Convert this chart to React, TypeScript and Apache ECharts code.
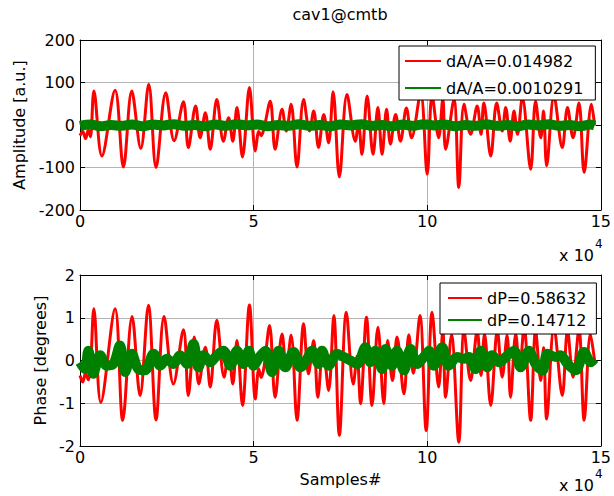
import { useEffect, useRef } from "react";
import * as echarts from "echarts";

const FONT = "'DejaVu Sans', sans-serif";

const titleText = "cav1@cmtb";
const ampName = "Amplitude [a.u.]";
const phaseName = "Phase [degrees]";
const xName = "Samples#";

const ampRedName = "dA/A=0.014982";
const ampGreenName = "dA/A=0.0010291";
const phaseRedName = "dP=0.58632";
const phaseGreenName = "dP=0.14712";

// samples (x) / amplitude (y) — local extrema
const ampRed: [number, number][] = [
  [0, -25], [800, -15], [1600, -32], [2400, -12], [3000, -28], [4000, 80], [6300, -73], [10100, 82],
  [12500, -99], [14900, 80], [17500, -55], [19800, 96], [21900, -100], [24700, 76], [27100, -37],
  [29800, 55], [31200, -53], [33300, 45], [34600, -30], [36100, 29], [37500, -57], [39400, 60],
  [41300, -38], [42800, 17], [44000, -38], [45200, 41], [46800, -75], [48800, 88], [50500, -61],
  [51500, -15], [52200, -25], [53000, -8], [54800, 56], [56200, -57], [58200, 37], [59400, -14],
  [60800, 49], [62500, -99], [64400, 60], [66100, -14], [67300, 33], [68700, -53], [70200, 25],
  [71600, -42], [72900, 78], [74700, -122], [76900, 72], [79300, -38], [80200, 5], [81200, -69],
  [82700, 68], [84400, -69], [85800, 41], [87000, -69], [88300, 37], [89400, -45], [90900, 25],
  [92300, -38], [94000, 40], [95500, -30], [98100, 75], [100000, -116], [101400, 70], [103300, -30],
  [104500, 62], [105300, -57], [107700, 60], [109100, -147], [110600, 49], [112500, -22], [114400, 45],
  [115500, -22], [116300, 52], [118300, -73], [120000, 52], [121600, -14], [122600, 41], [123900, -38],
  [125000, 33], [126000, -22], [127400, 64], [129800, -104], [131200, 56], [132700, -30], [133500, 33],
  [134400, -96], [136500, 68], [138900, -53], [140400, 41], [142000, -30], [143700, 52], [145200, -112],
  [147300, 49], [148200, 0],
];

const ampGreen: [number, number][] = [
  [0, -2], [3000, 1], [6000, -3], [9000, 0], [12000, -2], [15000, 1], [18000, -3], [21000, 1],
  [24000, -1], [27000, 2], [30000, -2], [33000, 0], [36000, -3], [39000, 1], [42000, -2], [45000, 2],
  [48000, -1], [51000, 1], [54000, -3], [57000, 0], [60000, -2], [63000, 2], [66000, -2], [69000, 0],
  [72000, -3], [75000, 1], [78000, -1], [81000, 2], [84000, -2], [87000, 0], [90000, -3], [93000, 1],
  [96000, -2], [99000, 2], [102000, -1], [105000, 1], [108000, -3], [111000, 0], [114000, -2],
  [117000, 2], [120000, -2], [123000, 0], [126000, -3], [129000, 1], [132000, -1], [135000, 2],
  [138000, -2], [141000, 0], [144000, -3], [147000, 1], [148200, -1],
];

const phaseRed: [number, number][] = [
  [0, -0.35], [800, -0.5], [1600, -0.3], [2400, -0.45], [3000, -0.2], [4000, 1.21], [6000, -0.98],
  [10100, 1.21], [12300, -1.4], [15000, 1.03], [17300, -0.82], [19700, 1.29], [21900, -1.39],
  [24200, 1.03], [26900, -0.55], [29800, 0.72], [31200, -0.82], [32900, 0.55], [34200, -0.55],
  [36100, 0.31], [37500, -0.62], [39400, 0.94], [41500, -0.39], [42800, 0.23], [44000, -0.55],
  [45200, 0.47], [46800, -1.05], [48800, 1.3], [50500, -0.9], [51500, -0.2], [52200, -0.4],
  [53000, -0.15], [54600, 0.82], [56200, -0.86], [58200, 0.62], [59400, -0.16], [60800, 0.59],
  [62500, -1.4], [64400, 0.86], [65800, -0.31], [67300, 0.47], [68500, -0.86], [70000, 0.31],
  [71600, -0.7], [73100, 1.05], [74700, -1.75], [76700, 1.13], [78700, -0.55], [79800, 0.1],
  [80800, -1.01], [82500, 1.01], [84100, -1.05], [85800, 0.78], [87500, -1.01], [88600, 0.47],
  [90000, -0.47], [91300, 0.55], [93300, -0.78], [94700, 0.6], [96000, -0.3], [97900, 1.05],
  [99700, -1.64], [101400, 1.13], [103300, -0.62], [104500, 0.7], [105300, -0.86], [107000, 0.6],
  [109100, -1.91], [110600, 0.7], [112500, -0.47], [114400, 0.7], [115500, -0.35], [116500, 0.62],
  [118300, -1.05], [120200, 0.7], [121600, -0.39], [123000, 0.59], [124000, -0.86], [125500, 0.62],
  [126600, -0.2], [127900, 0.78], [129800, -1.4], [131200, 0.7], [132700, -0.47], [133500, 0.3],
  [134400, -1.37], [136500, 0.78], [138900, -0.82], [140400, 0.7], [142000, -0.39], [143700, 0.74],
  [145200, -1.4], [147000, 0.62], [148200, 0],
];

const phaseGreen: [number, number][] = [
  [0, -0.04], [1400, -0.2], [2400, 0.23], [3800, -0.31], [5800, 0.12], [7700, -0.12], [9600, -0.08],
  [11500, 0.35], [13000, -0.27], [14900, 0.16], [16800, -0.2], [18700, -0.23], [21200, 0.16],
  [23100, -0.12], [25000, 0.04], [26900, -0.08], [28800, 0.12], [30800, -0.08], [32700, 0.39],
  [34100, -0.16], [35600, 0.12], [37500, -0.04], [39400, 0.12], [41300, 0.23], [43300, -0.12],
  [45200, 0.23], [47100, -0.08], [48600, 0.23], [50000, -0.12], [51700, 0.08], [53400, 0.23],
  [55300, -0.27], [57200, 0.23], [59100, -0.16], [61500, 0.2], [63500, -0.16], [65400, 0.04],
  [66800, 0.23], [68700, -0.08], [69700, 0.23], [71600, -0.12], [74000, 0.16], [76000, 0.08],
  [77900, 0], [79800, -0.08], [82200, 0.31], [83600, -0.04], [85100, 0.23], [87000, -0.2],
  [88000, 0.27], [89900, -0.12], [91300, 0.23], [93300, -0.23], [95200, 0.27], [97100, -0.08],
  [99000, 0.08], [100500, 0.23], [101900, -0.12], [104300, 0.31], [106200, -0.12], [108600, 0.08],
  [110600, 0.04], [112000, 0.08], [113900, -0.2], [115400, 0.23], [117300, -0.16], [118700, 0.12],
  [120700, -0.04], [122600, 0.08], [125000, 0.23], [126900, -0.16], [129300, 0.23], [131200, -0.08],
  [133200, -0.23], [134600, 0.16], [137000, 0.08], [138400, 0.12], [140400, -0.08], [142800, -0.23],
  [145200, 0.2], [147100, -0.04], [148100, 0.04],
];

const xRange = { min: 0, max: 150000, interval: 50000 };
const ampRange = { min: -200, max: 200, interval: 100 };
const phaseRange = { min: -2, max: 2, interval: 1 };

const RED = "#ff0000";
const GREEN = "#008000";
const GRIDLINE = "#b4b4b4";

const tick = { show: true, inside: true, length: 5, lineStyle: { color: "#000", width: 1 } };
const line = { show: true, onZero: false, lineStyle: { color: "#000", width: 1 } };
const labelStyle = { color: "#000", fontSize: 16, fontFamily: FONT };

function xAxes(gridIndex: number) {
  return [
    {
      type: "value", gridIndex, position: "bottom", ...xRange,
      axisLine: line, axisTick: tick,
      axisLabel: { ...labelStyle, margin: 3, formatter: (v: number) => String(v / 10000) },
      splitLine: { show: true, lineStyle: { color: GRIDLINE, width: 1 } },
      ...(gridIndex === 1
        ? { name: xName, nameLocation: "middle", nameGap: 25, nameTextStyle: { ...labelStyle } }
        : {}),
    },
    {
      type: "value", gridIndex, position: "top", ...xRange,
      axisLine: line, axisTick: tick, axisLabel: { show: false }, splitLine: { show: false },
    },
  ];
}

function yAxes(gridIndex: number, range: any, name: string, gap: number) {
  return [
    {
      type: "value", gridIndex, position: "left", ...range,
      axisLine: line, axisTick: tick,
      axisLabel: { ...labelStyle, margin: 5 },
      splitLine: { show: true, lineStyle: { color: GRIDLINE, width: 1 } },
      name, nameLocation: "middle", nameGap: gap, nameRotate: 90,
      nameTextStyle: { ...labelStyle },
    },
    {
      type: "value", gridIndex, position: "right", ...range,
      axisLine: line, axisTick: tick, axisLabel: { show: false }, splitLine: { show: false },
    },
  ];
}

function lineSeries(name: string, data: [number, number][], axis: number, color: string, width: number) {
  return {
    type: "line", name, data, xAxisIndex: axis, yAxisIndex: axis,
    symbol: "none", showSymbol: false, smooth: 0.35, clip: true,
    lineStyle: { color, width, join: "round" }, itemStyle: { color },
  };
}

function legendBox(names: string[], left: number, top: number, padding: number[], rowH: number, gap: number, itemW: number) {
  return {
    data: names, orient: "vertical", left, top, padding,
    icon: "rect", itemWidth: itemW, itemHeight: 2, itemGap: gap,
    borderColor: "#000", borderWidth: 1, borderRadius: 0, backgroundColor: "#fff",
    textStyle: { ...labelStyle, lineHeight: rowH, height: rowH, verticalAlign: "middle" },
    selectedMode: false, z: 10,
  };
}

function powerLabel(y: number) {
  return [
    {
      type: "text", x: 594, y,
      style: { text: "x 10", font: `16px ${FONT}`, fill: "#000", textAlign: "right", textVerticalAlign: "middle", align: "right", verticalAlign: "middle" },
    },
    {
      type: "text", x: 595, y: y - 11,
      style: { text: "4", font: `12px ${FONT}`, fill: "#000", textAlign: "left", textVerticalAlign: "middle", align: "left", verticalAlign: "middle" },
    },
  ];
}

export default function App() {
  const ref = useRef<HTMLDivElement>(null);
  useEffect(() => {
    if (!ref.current) return;
    const chart = echarts.init(ref.current, null, { renderer: "svg" });
    chart.setOption({
      animation: false,
      backgroundColor: "#fff",
      textStyle: { fontFamily: FONT },
      title: {
        text: titleText, left: 340, top: 6, padding: 0, textAlign: "center",
        textStyle: { ...labelStyle, fontWeight: "normal" },
      },
      grid: [
        { left: 80, top: 40, width: 521, height: 170, containLabel: false },
        { left: 80, top: 275, width: 521, height: 171, containLabel: false },
      ],
      xAxis: [...xAxes(0), ...xAxes(1)],
      yAxis: [...yAxes(0, ampRange, ampName, 47), ...yAxes(1, phaseRange, phaseName, 27)],
      legend: [
        legendBox([ampRedName, ampGreenName], 399, 46, [5, 12, 2, 6], 20, 7, 36),
        legendBox([phaseRedName, phaseGreenName], 440, 283, [6, 10, 5, 8], 18, 4, 34),
      ],
      series: [
        lineSeries(ampRedName, ampRed, 0, RED, 3),
        lineSeries(ampGreenName, ampGreen, 0, GREEN, 10),
        { ...lineSeries(phaseRedName, phaseRed, 2, RED, 3), xAxisIndex: 2, yAxisIndex: 2 },
        { ...lineSeries(phaseGreenName, phaseGreen, 2, GREEN, 10), xAxisIndex: 2, yAxisIndex: 2 },
      ],
      graphic: [...powerLabel(255), ...powerLabel(485)],
    });
    return () => chart.dispose();
  }, []);
  return <div ref={ref} style={{ position: "absolute", left: 0, top: 0, width: 614, height: 496 }} />;
}
